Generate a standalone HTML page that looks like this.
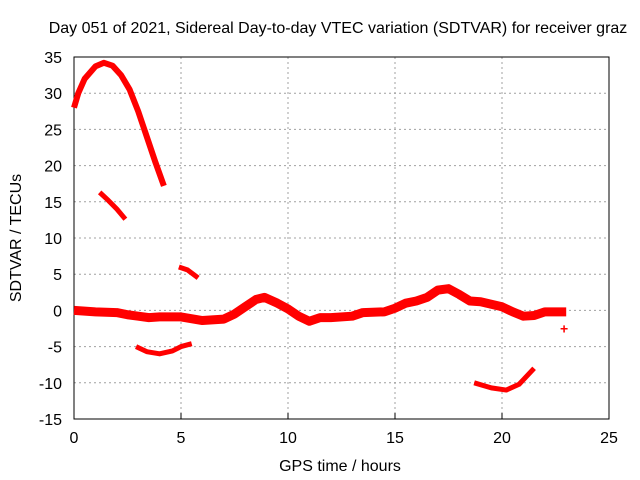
<!DOCTYPE html>
<html><head><meta charset="utf-8"><style>body{margin:0;background:#fff}svg{display:block;font-family:"Liberation Sans",sans-serif;font-size:16px}</style></head>
<body>
<svg id="chart" width="640" height="480">
<text x="338" y="33" text-anchor="middle">Day 051 of 2021, Sidereal Day-to-day VTEC variation (SDTVAR) for receiver graz</text>
<g id="grid"></g><g id="axes"></g><g id="series"></g>
<text x="340" y="471" text-anchor="middle">GPS time / hours</text>
<text transform="translate(21,238) rotate(-90)" text-anchor="middle">SDTVAR / TECUs</text>
</svg>
<script>
const xTicks=[0,5,10,15,20,25];
const yTicks=[35,30,25,20,15,10,5,0,-5,-10,-15];
const arcT=[0,0.2,0.5,1,1.4,1.8,2.2,2.6,3,3.4,3.8,4.2];
const arcV=[28,30,32,33.7,34.2,33.8,32.5,30.5,27.5,24,20.5,17.2];
const seg2T=[1.2,1.6,2,2.4];
const seg2V=[16.3,15.2,14,12.6];
const seg3T=[4.9,5.3,5.8];
const seg3V=[6,5.6,4.5];
const seg4T=[2.9,3.4,4,4.6,5,5.5];
const seg4V=[-5,-5.7,-6,-5.6,-5,-4.6];
const mainT=[0,1,2,2.5,3,3.5,4,5,6,7,7.5,8,8.5,8.9,9.5,10,10.5,11,11.5,12,13,13.5,14.5,15,15.5,16,16.5,17,17.5,18,18.5,19,20,20.5,21,21.5,22,23];
const mainV=[0,-0.2,-0.3,-0.6,-0.8,-1,-0.9,-0.9,-1.4,-1.2,-0.5,0.5,1.5,1.8,1,0.2,-0.8,-1.5,-1,-1,-0.8,-0.3,-0.2,0.3,1,1.3,1.8,2.8,3,2.2,1.3,1.2,0.5,-0.2,-0.8,-0.7,-0.2,-0.2];
const seg6T=[18.7,19.5,20.2,20.8,21.5];
const seg6V=[-10,-10.7,-11,-10.2,-8];
const ptT=[22.9];const ptV=[-2.5];
const L=74,R=609,T=57,B=419;
const X=v=>L+(v-0)/25*(R-L), Y=v=>B-(v+15)/50*(B-T);
const NS='http://www.w3.org/2000/svg';
function mk(tag,at,parent){const e=document.createElementNS(NS,tag);for(const k in at)e.setAttribute(k,at[k]);document.getElementById(parent).appendChild(e);return e;}
xTicks.forEach(t=>{
 if(t>0&&t<25){const g=mk('line',{x1:X(t),x2:X(t),y1:T,y2:B,stroke:'#a0a0a0','stroke-dasharray':'2,3'},'grid');
 
 }
 const tk=mk('line',{x1:X(t),x2:X(t),y1:B,y2:B-6,stroke:'#000'},'axes');
 
 
 const tx=mk('text',{x:X(t),y:B+24,'text-anchor':'middle'},'axes');tx.textContent=t;
 
 
});
yTicks.forEach(t=>{
 if(t>-15&&t<35){const g=mk('line',{x1:L,x2:R,y1:Y(t),y2:Y(t),stroke:'#a0a0a0','stroke-dasharray':'2,3'},'grid');
 
 }
 const tx=mk('text',{x:L-12,y:Y(t)+6,'text-anchor':'end'},'axes');tx.textContent=t;
 
 
});
const fr=mk('rect',{x:L,y:T,width:R-L,height:B-T,fill:'none',stroke:'#000'},'axes');


function seg(ts,vs,w,name){
 const p=mk('polyline',{points:ts.map((t,i)=>X(t)+','+Y(vs[i])).join(' '),fill:'none',stroke:'#ff0000','stroke-width':w,'stroke-linejoin':'round','stroke-linecap':'butt'},'series');
 
 
}
seg(arcT,arcV,6,'arc-segment');
seg(seg2T,seg2V,5,'segment-2');
seg(seg3T,seg3V,5,'segment-3');
seg(seg4T,seg4V,5,'segment-4');
seg(mainT,mainV,9,'main-band');
seg(seg6T,seg6V,5,'segment-6');
ptT.forEach((t,i)=>{const c=mk('text',{x:X(t),y:Y(ptV[i])+5,'text-anchor':'middle',fill:'#ff0000','font-size':'14','font-weight':'bold'},'series');c.textContent='+';
 
 });
</script>
</body></html>
